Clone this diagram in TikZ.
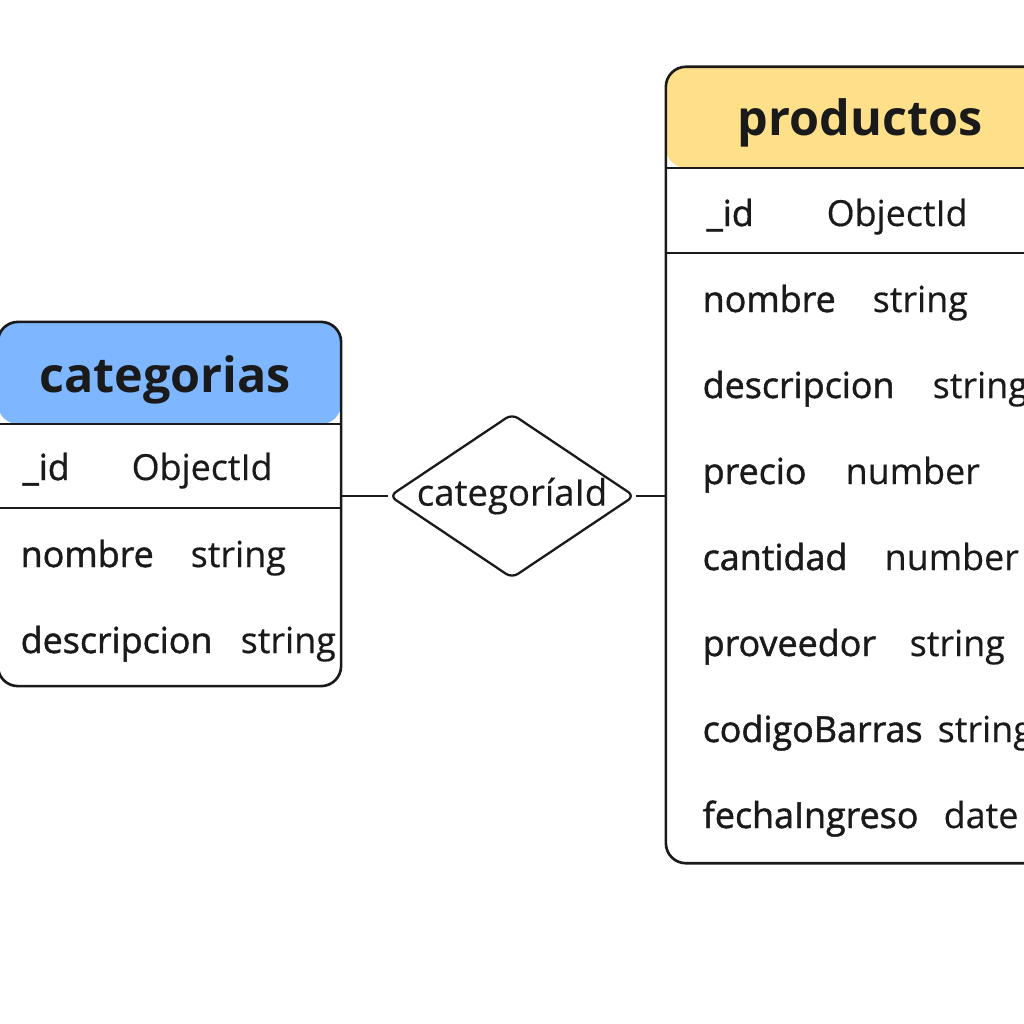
\documentclass[tikz,border=0pt]{standalone}
\usepackage{fontspec}
\setmainfont{Open Sans}
\newfontfamily\namefont[FakeBold=1.3]{Open Sans}
\newfontfamily\typefont[FakeBold=0.4]{Open Sans}
\usetikzlibrary{shapes.geometric}
\definecolor{catblue}{RGB}{126,182,255}
\definecolor{prodyellow}{RGB}{255,224,138}
\definecolor{ink}{RGB}{26,26,26}
\tikzset{
  tablebox/.style={draw=ink,line width=0.75pt,rounded corners=0.2cm,fill=white},
  rowline/.style={draw=ink,line width=0.75pt},
  title/.style={anchor=base,font=\fontsize{13.8}{16}\selectfont\bfseries},
  field/.style={anchor=base west,font=\fontsize{10.2}{12}\selectfont\namefont},
  ftype/.style={anchor=base west,font=\fontsize{10.2}{12}\selectfont\typefont}
}
\begin{document}
\begin{tikzpicture}[x=0.01cm,y=-0.01cm,every node/.style={inner sep=0pt,text=ink}]
\useasboundingbox (0,0) rectangle (1024,1024);
% tables
\node[tablebox,minimum width=3.43cm,minimum height=3.64cm,
  path picture={\fill[catblue] (path picture bounding box.north west) rectangle ([yshift=-1.02cm]path picture bounding box.north east);}] (cat) at (169.5,504) {};
\node[tablebox,minimum width=4cm,minimum height=7.96cm,
  path picture={\fill[prodyellow] (path picture bounding box.north west) rectangle ([yshift=-1.01cm]path picture bounding box.north east);}] (prod) at (866,465) {};
\draw[rowline] (cat.west |- 0,424) -- (cat.east |- 0,424) (cat.west |- 0,508) -- (cat.east |- 0,508);
\draw[rowline] (prod.west |- 0,168) -- (prod.east |- 0,168) (prod.west |- 0,253) -- (prod.east |- 0,253);
% relation
\node[draw=ink,diamond,aspect=1.49,line width=0.65pt,minimum width=2.4cm,minimum height=1.61cm,rounded corners=2pt,
  font=\fontsize{10.4}{12}\selectfont\typefont] (rel) at (512,496) {categoríaId};
\draw[rowline,line width=0.65pt] (cat.east |- rel.west) -- (rel.west) (rel.east) -- (prod.west |- rel.east);
% categorias
\node[title] (cattitle) at (165,392) {categorias};
\node[field] (catid) at (22,480) {\_id};
\node[ftype] (catidt) at (131,480) {ObjectId};
\node[field] (catnom) at (20,567) {nombre};
\node[ftype] (catnomt) at (190,567) {string};
\node[field] (catdes) at (20,653) {descripcion};
\node[ftype] (catdest) at (240,653) {string};
% productos
\node[title] (prodtitle) at (860,135) {productos};
\node[field] (prodid) at (706,226) {\_id};
\node[ftype] (prodidt) at (826,226) {ObjectId};
\node[field] (prodnom) at (702,312) {nombre};
\node[ftype] (prodnomt) at (872,312) {string};
\node[field] (proddes) at (702,398) {descripcion};
\node[ftype] (proddest) at (932,398) {string};
\node[field] (prodpre) at (702,484) {precio};
\node[ftype] (prodpret) at (845,484) {number};
\node[field] (prodcan) at (702,570) {cantidad};
\node[ftype] (prodcant) at (884,570) {number};
\node[field] (prodprv) at (702,656) {proveedor};
\node[ftype] (prodprvt) at (909,656) {string};
\node[field] (prodcod) at (702,742) {codigoBarras};
\node[ftype] (prodcodt) at (937,742) {string};
\node[field] (prodfec) at (702,828) {fechaIngreso};
\node[ftype] (prodfect) at (943,828) {date};
\end{tikzpicture}
\end{document}
